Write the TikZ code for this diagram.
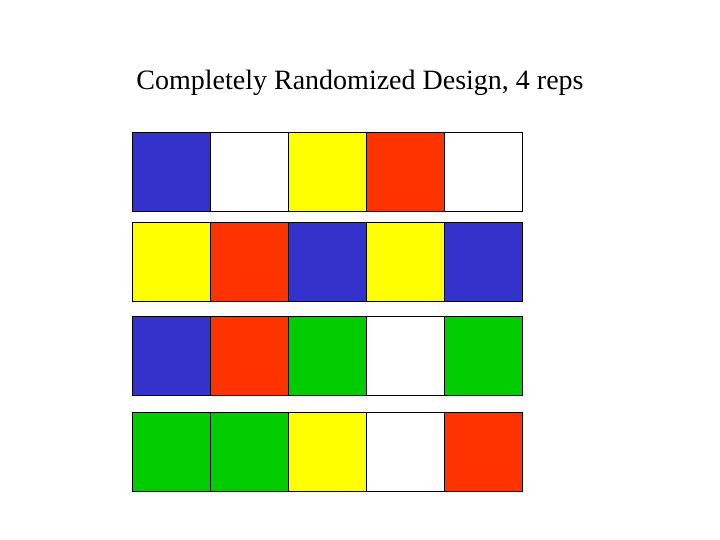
\documentclass[tikz,border=0pt]{standalone}
\usepackage{fontspec}
\setmainfont{Liberation Serif}
\definecolor{plotblue}{RGB}{51,51,204}
\definecolor{plotred}{RGB}{255,51,0}
\definecolor{plotyellow}{RGB}{255,255,0}
\definecolor{plotgreen}{RGB}{0,204,0}
\begin{document}
\begin{tikzpicture}[x=1pt,y=-1pt]
          \useasboundingbox (0,0) rectangle (720,540);
          \node (title) at (360,83) {\fontsize{28}{34}\selectfont Completely Randomized Design, 4 reps};

          % rows of plots: top y, then the five colours
          \foreach \y/\cols in {132/{plotblue,white,plotyellow,plotred,white},
                                222/{plotyellow,plotred,plotblue,plotyellow,plotblue},
                                316/{plotblue,plotred,plotgreen,white,plotgreen},
                                412/{plotgreen,plotgreen,plotyellow,white,plotred}}
          {
            \foreach \c [count=\i from 0] in \cols
            {
              \filldraw[fill=\c, draw=black, line width=0.8pt] ({132+78*\i},\y) rectangle ({210+78*\i},{\y+79});
            }
          }
        \end{tikzpicture}
\end{document}
